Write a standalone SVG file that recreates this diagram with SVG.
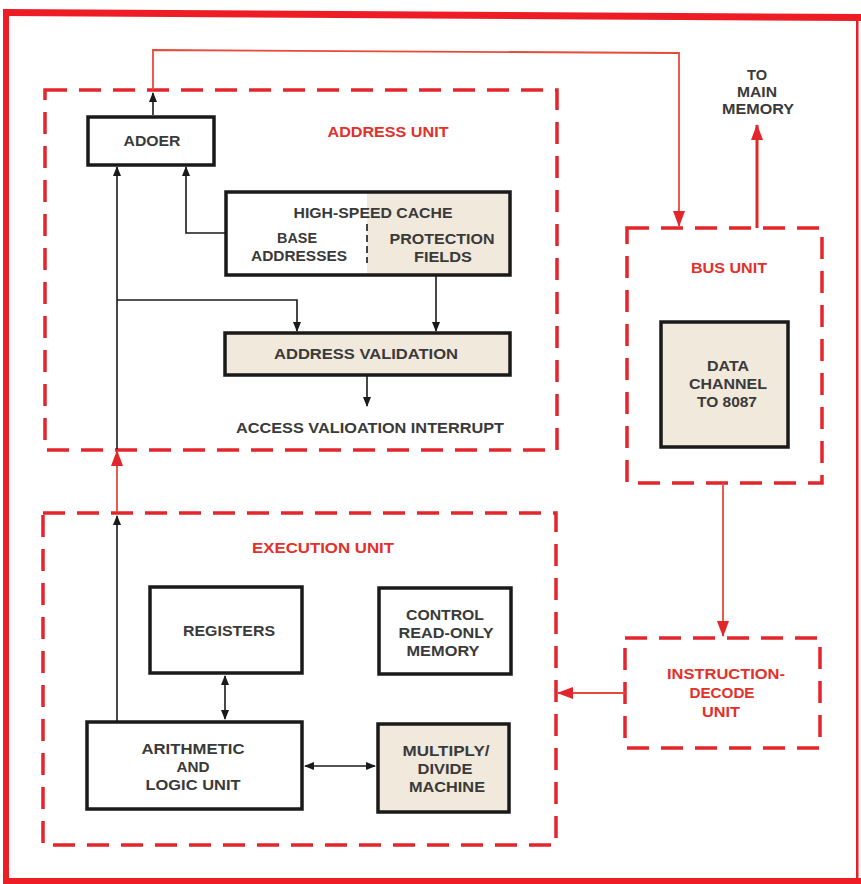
<svg xmlns="http://www.w3.org/2000/svg" width="861" height="884" viewBox="0 0 861 884">
<defs>
<style>
.unit{fill:none;stroke:#e3262b;stroke-width:3.5;stroke-dasharray:22 12}
.box{fill:#fff;stroke:#1a1a1a;stroke-width:3.5}
.beige{fill:#f1e9dc;stroke:#1a1a1a;stroke-width:3.5}
.t{font-family:"Liberation Sans",Arial,sans-serif;font-weight:bold;font-size:15px;fill:#3a3a3a;text-anchor:middle}
.r{fill:#e3302a}
.bl{fill:none;stroke:#1a1a1a;stroke-width:1.6}
.rl{fill:none;stroke:#e8493a;stroke-width:1.8}
.rt{fill:none;stroke:#e3262b;stroke-width:3}
</style>
<marker id="ab" markerUnits="userSpaceOnUse" markerWidth="10" markerHeight="10" refX="9" refY="4" orient="auto-start-reverse"><path d="M0,0 L10,4 L0,8 z" fill="#1a1a1a"/></marker>
<marker id="ar" markerUnits="userSpaceOnUse" markerWidth="16" markerHeight="14" refX="15" refY="6" orient="auto-start-reverse"><path d="M0,0 L16,6 L0,12 z" fill="#e3262b"/></marker>
</defs>
<rect width="861" height="884" fill="#fff"/>
<g id="frame" fill="#ee1c24">
<polygon points="3,9 861,14 861,21 3,16"/>
<rect x="3" y="9" width="6" height="875"/>
<rect x="3" y="878" width="858" height="6"/>
<rect x="856" y="14" width="2.5" height="866"/>
</g>
<g id="address-unit">
<rect class="unit" x="45" y="90" width="512" height="360"/>
<text class="t r" x="388" y="137" textLength="121" lengthAdjust="spacingAndGlyphs">ADDRESS UNIT</text>
</g>
<g id="adder">
<rect class="box" x="88" y="117" width="126" height="48"/>
<text class="t" x="152" y="146" textLength="57" lengthAdjust="spacingAndGlyphs">ADOER</text>
</g>
<g id="cache">
<rect x="226" y="192" width="284" height="83" fill="#fff"/>
<rect x="367" y="192" width="143" height="83" fill="#f1e9dc"/>
<rect x="226" y="192" width="284" height="83" fill="none" stroke="#1a1a1a" stroke-width="3.5"/>
<line x1="367" y1="224" x2="367" y2="263" stroke="#1a1a1a" stroke-width="1.6" stroke-dasharray="7 4"/>
<text class="t" x="373" y="218" textLength="159" lengthAdjust="spacingAndGlyphs">HIGH-SPEED CACHE</text>
<text class="t" x="297" y="243" textLength="40" lengthAdjust="spacingAndGlyphs">BASE</text>
<text class="t" x="299" y="261" textLength="96" lengthAdjust="spacingAndGlyphs">ADDRESSES</text>
<text class="t" x="442" y="244" textLength="105" lengthAdjust="spacingAndGlyphs">PROTECTION</text>
<text class="t" x="443" y="262" textLength="58" lengthAdjust="spacingAndGlyphs">FIELDS</text>
</g>
<g id="address-validation">
<rect class="beige" x="225" y="333" width="285" height="42"/>
<text class="t" x="366" y="359" textLength="184" lengthAdjust="spacingAndGlyphs">ADDRESS VALIDATION</text>
</g>
<g id="interrupt-label">
<text class="t" x="370" y="433" textLength="268" lengthAdjust="spacingAndGlyphs">ACCESS VALIOATION INTERRUPT</text>
</g>
<g id="main-memory-label">
<text class="t" x="757" y="80" textLength="20" lengthAdjust="spacingAndGlyphs">TO</text>
<text class="t" x="757" y="97" textLength="40" lengthAdjust="spacingAndGlyphs">MAIN</text>
<text class="t" x="758" y="114" textLength="72" lengthAdjust="spacingAndGlyphs">MEMORY</text>
</g>
<g id="bus-unit">
<rect class="unit" x="627" y="228" width="195" height="255"/>
<text class="t r" x="729" y="273" textLength="76" lengthAdjust="spacingAndGlyphs">BUS UNIT</text>
</g>
<g id="data-channel">
<rect class="beige" x="661" y="322" width="127" height="125"/>
<text class="t" x="728" y="371" textLength="42" lengthAdjust="spacingAndGlyphs">DATA</text>
<text class="t" x="728" y="389" textLength="78" lengthAdjust="spacingAndGlyphs">CHANNEL</text>
<text class="t" x="727" y="407" textLength="60" lengthAdjust="spacingAndGlyphs">TO 8087</text>
</g>
<g id="execution-unit">
<rect class="unit" x="43" y="513" width="513" height="332"/>
<text class="t r" x="323" y="553" textLength="142" lengthAdjust="spacingAndGlyphs">EXECUTION UNIT</text>
</g>
<g id="registers">
<rect class="box" x="150" y="587" width="152" height="86"/>
<text class="t" x="229" y="636" textLength="92" lengthAdjust="spacingAndGlyphs">REGISTERS</text>
</g>
<g id="control-rom">
<rect class="box" x="379" y="588" width="132" height="86"/>
<text class="t" x="445" y="620" textLength="78" lengthAdjust="spacingAndGlyphs">CONTROL</text>
<text class="t" x="446" y="638" textLength="95" lengthAdjust="spacingAndGlyphs">READ-ONLY</text>
<text class="t" x="443" y="656" textLength="73" lengthAdjust="spacingAndGlyphs">MEMORY</text>
</g>
<g id="alu">
<rect class="box" x="87" y="722" width="215" height="87"/>
<text class="t" x="193" y="754" textLength="103" lengthAdjust="spacingAndGlyphs">ARITHMETIC</text>
<text class="t" x="193" y="772" textLength="33" lengthAdjust="spacingAndGlyphs">AND</text>
<text class="t" x="193" y="790" textLength="95" lengthAdjust="spacingAndGlyphs">LOGIC UNIT</text>
</g>
<g id="multiply-divide">
<rect class="beige" x="378" y="724" width="131" height="88"/>
<text class="t" x="446" y="756" textLength="87" lengthAdjust="spacingAndGlyphs">MULTIPLY/</text>
<text class="t" x="445" y="774" textLength="55" lengthAdjust="spacingAndGlyphs">DIVIDE</text>
<text class="t" x="447" y="792" textLength="76" lengthAdjust="spacingAndGlyphs">MACHINE</text>
</g>
<g id="instruction-decode-unit">
<rect class="unit" x="625" y="638" width="195" height="110"/>
<text class="t r" x="726" y="679" textLength="118" lengthAdjust="spacingAndGlyphs">INSTRUCTION-</text>
<text class="t r" x="722" y="698" textLength="65" lengthAdjust="spacingAndGlyphs">DECODE</text>
<text class="t r" x="721" y="717" textLength="38" lengthAdjust="spacingAndGlyphs">UNIT</text>
</g>
<g id="connectors">
<path class="bl" d="M117,722 V516" marker-end="url(#ab)"/>
<path class="rl" d="M117,512 V451" marker-end="url(#ar)"/>
<path class="bl" d="M117,449 V167" marker-end="url(#ab)"/>
<path class="bl" d="M117,300 H297 V331" marker-end="url(#ab)"/>
<path class="bl" d="M226,233 H186 V167" marker-end="url(#ab)"/>
<path class="bl" d="M436,275 V331" marker-end="url(#ab)"/>
<path class="bl" d="M367,375 V406" marker-end="url(#ab)"/>
<path class="bl" d="M153,115 V93" marker-end="url(#ab)"/>
<path class="rl" d="M153,90 V50 L679,53 V226" marker-end="url(#ar)"/>
<path class="rt" d="M757,228 V125" marker-end="url(#ar)"/>
<path class="rl" d="M723,483 V636" marker-end="url(#ar)"/>
<path class="rl" d="M625,693 H558" marker-end="url(#ar)"/>
<path class="bl" d="M225,676 V719" marker-start="url(#ab)" marker-end="url(#ab)"/>
<path class="bl" d="M305,766 H375" marker-start="url(#ab)" marker-end="url(#ab)"/>
</g>
</svg>
